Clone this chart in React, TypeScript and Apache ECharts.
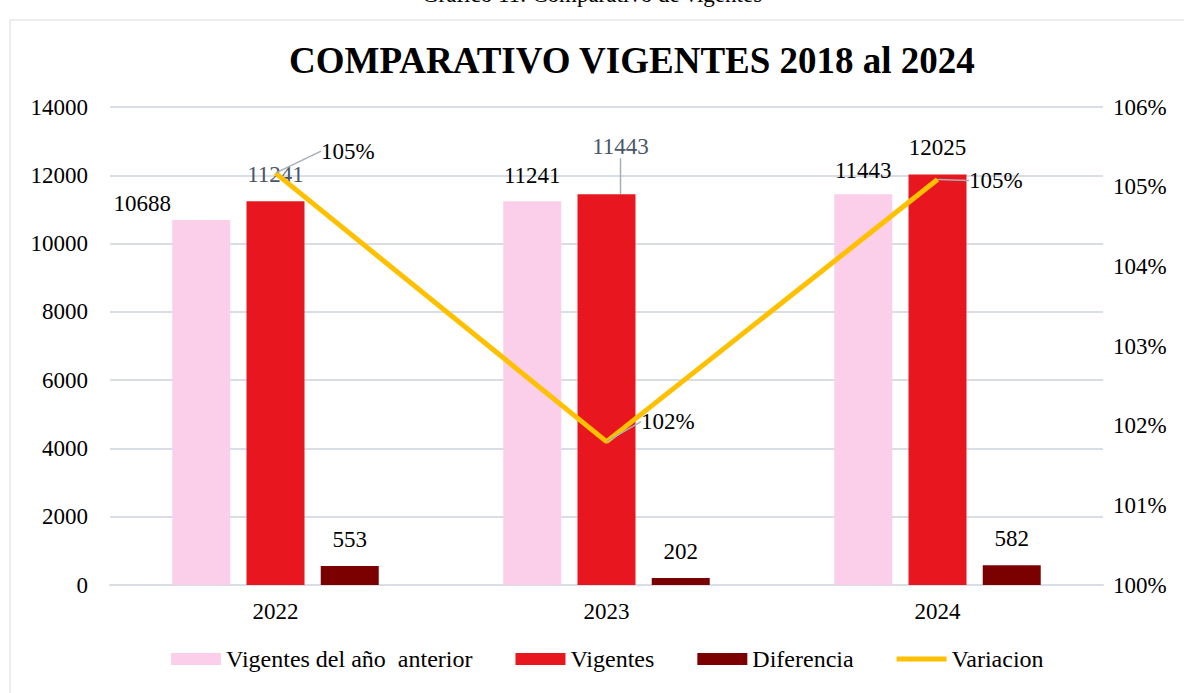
import React, { useEffect, useRef } from "react";
import * as echarts from "echarts";

const categories = ["2022", "2023", "2024"];
const vigentesAnterior = [10688, 11241, 11443];
const vigentes = [11241, 11443, 12025];
const diferencia = [553, 202, 582];
const variacion = [105.17, 101.8, 105.09]; // percent
const leftTicks = { min: 0, max: 14000, interval: 2000 };
const rightTicks = { min: 100, max: 106, interval: 1 };

const FONT = "'Liberation Serif', 'Times New Roman', serif";

// label nudges (style only)
const pinkNudge = [[-59, 10], [0, 1], [0, 3]];
const redNudge = [[0, 0], [14, -21], [0, 0]];
const lineNudge = [[45, -22], [34, -20], [31, 1]];

export default function App() {
  const ref = useRef<HTMLDivElement>(null);
  useEffect(() => {
    if (!ref.current) return;
    const chart = echarts.init(ref.current, undefined, { renderer: "svg" });
    const labelBase = {
      show: true,
      position: "top" as const,
      distance: 15,
      fontFamily: FONT,
      fontSize: 23,
      color: "#000",
    };
    const leader = { show: true, lineStyle: { color: "#A6AEB8", width: 1.5 } };
    chart.setOption({
      animation: false,
      backgroundColor: "#fff",
      textStyle: { fontFamily: FONT },
      title: {
        text: "COMPARATIVO VIGENTES 2018 al 2024",
        left: 284,
        top: 37,
        textStyle: { fontFamily: FONT, fontSize: 37, fontWeight: "bold", color: "#000" },
      },
      graphic: [
        {
          type: "rect",
          shape: { x: 10, y: 20, width: 1300, height: 800 },
          style: { fill: "none", stroke: "#D9D9D9", lineWidth: 1 },
          silent: true,
        },
        {
          type: "text",
          left: "center",
          top: -17,
          style: { text: "Gráfico 11: Comparativo de vigentes", fontFamily: FONT, fontSize: 23, fill: "#000" },
        },
      ],
      grid: { left: 110, right: 81, top: 107, bottom: 108 },
      legend: {
        bottom: 17,
        left: 166,
        itemWidth: 50,
        itemHeight: 12,
        itemGap: 43,
        textStyle: { fontFamily: FONT, fontSize: 24, color: "#000" },
        data: [
          { name: "Vigentes del año  anterior", icon: "rect" },
          { name: "Vigentes", icon: "rect" },
          { name: "Diferencia", icon: "rect" },
          { name: "Variacion", icon: "path://M0,0H50V5H0Z" },
        ],
      },
      xAxis: {
        type: "category",
        data: categories,
        axisTick: { show: false },
        axisLine: { lineStyle: { color: "#D9DEE6", width: 2 } },
        axisLabel: { fontFamily: FONT, fontSize: 23, color: "#000", margin: 15 },
      },
      yAxis: [
        {
          type: "value",
          ...leftTicks,
          axisLabel: { fontFamily: FONT, fontSize: 23, color: "#000", margin: 22, formatter: (v: number) => String(v) },
          splitLine: { lineStyle: { color: "#D9DEE6", width: 2 } },
          axisLine: { show: false },
          axisTick: { show: false },
        },
        {
          type: "value",
          ...rightTicks,
          axisLabel: { fontFamily: FONT, fontSize: 23, color: "#000", margin: 10, formatter: (v: number) => `${v}%` },
          splitLine: { show: false },
          axisLine: { show: false },
          axisTick: { show: false },
        },
      ],
      series: [
        {
          name: "Vigentes del año  anterior",
          type: "bar",
          data: vigentesAnterior,
          barWidth: 58,
          barGap: "28%",
          itemStyle: { color: "#FBCFEA" },
          label: labelBase,
          labelLayout: (p: any) => ({ dx: pinkNudge[p.dataIndex][0], dy: pinkNudge[p.dataIndex][1] }),
        },
        {
          name: "Vigentes",
          type: "bar",
          data: vigentes.map((v, i) => ({
            value: v,
            label: { color: i < 2 ? "#4A5568" : "#000" },
            labelLine: { show: i === 1 },
          })),
          barWidth: 58,
          barGap: "28%",
          itemStyle: { color: "#E8171F" },
          label: labelBase,
          labelLine: leader,
          labelLayout: (p: any) => ({ dx: redNudge[p.dataIndex][0], dy: redNudge[p.dataIndex][1] }),
        },
        {
          name: "Diferencia",
          type: "bar",
          data: diferencia,
          barWidth: 58,
          barGap: "28%",
          itemStyle: { color: "#7B0000" },
          label: labelBase,
        },
        {
          name: "Variacion",
          type: "line",
          yAxisIndex: 1,
          data: variacion,
          symbol: "none",
          lineStyle: { color: "#FFC000", width: 5 },
          itemStyle: { color: "#FFC000" },
          z: 5,
        },
        {
          name: "VariacionEtiquetas",
          type: "scatter",
          yAxisIndex: 1,
          data: variacion,
          symbolSize: 1,
          itemStyle: { color: "#FFC000", opacity: 1 },
          label: {
            show: true,
            position: "right",
            distance: 0,
            fontFamily: FONT,
            fontSize: 23,
            color: "#000",
            opacity: 1,
            formatter: (p: any) => `${Math.round(p.value)}%`,
          },
          labelLine: leader,
          labelLayout: (p: any) => ({ dx: lineNudge[p.dataIndex][0], dy: lineNudge[p.dataIndex][1] }),
          z: 6,
        },
      ],
    });
    return () => chart.dispose();
  }, []);
  return (
    <div
      ref={ref}
      style={{ position: "fixed", left: 0, top: 0, width: 1184, height: 693 }}
    />
  );
}
